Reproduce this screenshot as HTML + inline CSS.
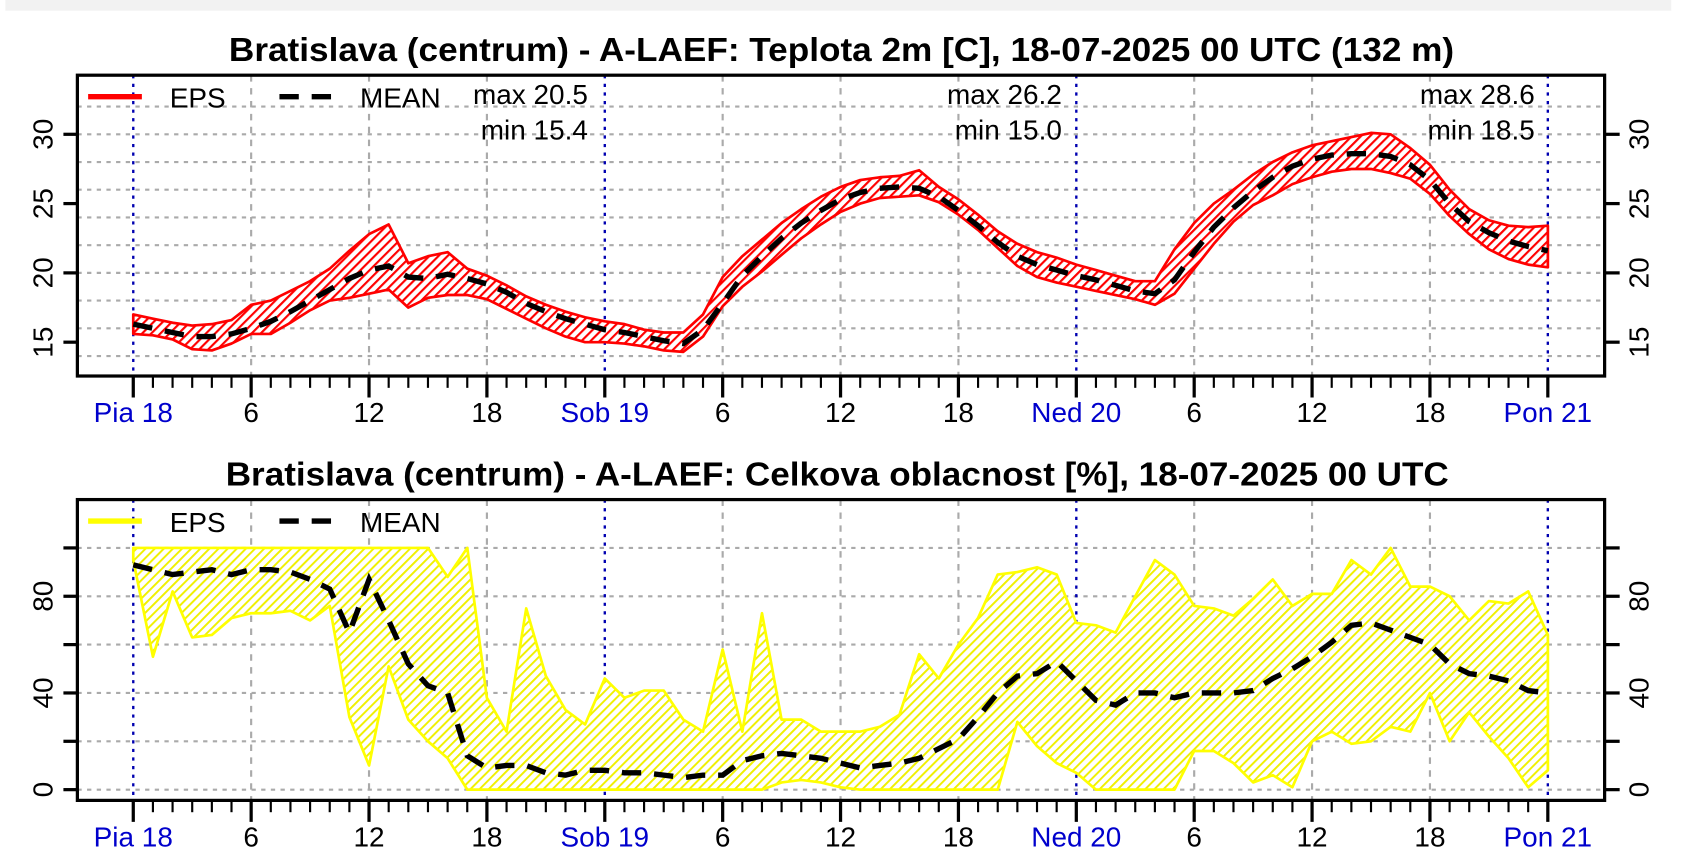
<!DOCTYPE html>
<html><head><meta charset="utf-8"><style>
html,body{margin:0;padding:0;background:#fff;}
svg{display:block;font-family:"Liberation Sans",Arial,sans-serif;}
</style></head><body>
<svg id="s" width="1682" height="867" viewBox="0 0 1565 807" preserveAspectRatio="none" xmlns="http://www.w3.org/2000/svg">
<defs>
<pattern id="hr" patternUnits="userSpaceOnUse" width="6" height="6" patternTransform="rotate(45)">
<rect width="6" height="6" fill="#fff"/><rect width="2" height="6" fill="#f00"/></pattern>
<pattern id="hy" patternUnits="userSpaceOnUse" width="6" height="6" patternTransform="rotate(45)">
<rect width="6" height="6" fill="#fff"/><rect width="1.8" height="6" fill="#f0f000"/></pattern>
</defs>
<rect x="5" y="0" width="1550" height="10" fill="#f2f2f2"/>
<g id="g"></g>
</svg>
<script>
const NS="http://www.w3.org/2000/svg",G=document.getElementById('g');
function el(t,a,txt){const e=document.createElementNS(NS,t);for(const k in a)e.setAttribute(k,a[k]);if(txt!==undefined)e.textContent=txt;G.appendChild(e);return e;}
const X0=124,DX=18.28,L=72,R=1493;
const hx=h=>X0+h*DX;
function panel(top,bot,yf,grid,title,tx,tw){
  el('text',{x:tx,y:top-13,'font-size':31,'font-weight':'bold',textLength:tw,lengthAdjust:'spacingAndGlyphs'},title);
  grid.forEach(v=>el('line',{x1:L,x2:R,y1:yf(v),y2:yf(v),stroke:'#aaa','stroke-width':2,'stroke-dasharray':'4 5'}));
  [6,12,18,30,36,42,54,60,66].forEach(h=>el('line',{x1:hx(h),x2:hx(h),y1:top,y2:bot,stroke:'#aaa','stroke-width':2,'stroke-dasharray':'6 6'}));
  [0,24,48,72].forEach(h=>el('line',{x1:hx(h),x2:hx(h),y1:top,y2:bot,stroke:'#0000b0','stroke-width':2.2,'stroke-dasharray':'3 5'}));
}
function axes(top,bot,yf,ticks,labels){
  el('rect',{x:L,y:top,width:R-L,height:bot-top,fill:'none',stroke:'#000','stroke-width':3});
  for(let h=0;h<=72;h++){const big=h%6==0;el('line',{x1:hx(h),x2:hx(h),y1:bot,y2:bot+(big?20:11),stroke:'#000','stroke-width':big?3:2});}
  const lab=[[0,'Pia 18',1],[6,'6'],[12,'12'],[18,'18'],[24,'Sob 19',1],[30,'6'],[36,'12'],[42,'18'],[48,'Ned 20',1],[54,'6'],[60,'12'],[66,'18'],[72,'Pon 21',1]];
  lab.forEach(([h,t,b])=>el('text',{x:hx(h),y:bot+43,'text-anchor':'middle','font-size':26,fill:b?'#0000cc':'#000'},t));
  ticks.forEach(v=>{el('line',{x1:L-13,x2:L,y1:yf(v),y2:yf(v),stroke:'#000','stroke-width':3});el('line',{x1:R,x2:R+14,y1:yf(v),y2:yf(v),stroke:'#000','stroke-width':3});});
  labels.forEach(v=>{const y=yf(v);
    el('text',{x:0,y:0,transform:`translate(49,${y}) rotate(-90)`,'text-anchor':'middle','font-size':26},String(v));
    el('text',{x:0,y:0,transform:`translate(1534,${y}) rotate(-90)`,'text-anchor':'middle','font-size':26},String(v));});
}
function band(up,lo,yf,fill,stroke){
  let d='M'+up.map((v,i)=>hx(i).toFixed(1)+','+yf(v).toFixed(1)).join('L');
  for(let i=lo.length-1;i>=0;i--)d+='L'+hx(i).toFixed(1)+','+yf(lo[i]).toFixed(1);
  el('path',{d:d+'Z',fill:fill,stroke:stroke,'stroke-width':2.5,'stroke-linejoin':'round'});
}
function mean(m,yf){el('polyline',{points:m.map((v,i)=>hx(i).toFixed(1)+','+yf(v).toFixed(1)).join(' '),fill:'none',stroke:'#000','stroke-width':5,'stroke-dasharray':'18 12'});}
function legend(y,col){
  el('line',{x1:82,x2:132,y1:y,y2:y,stroke:col,'stroke-width':5});
  el('text',{x:158,y:y+10,'font-size':26},'EPS');
  el('line',{x1:260,x2:312,y1:y,y2:y,stroke:'#000','stroke-width':5,'stroke-dasharray':'18 12'});
  el('text',{x:335,y:y+10,'font-size':26},'MEAN');
}
// Temperature
const yT=v=>125+(30-v)*12.9;
const Tm=[16.3,16.0,15.7,15.4,15.4,15.6,16.0,16.5,17.2,18.0,18.8,19.6,20.2,20.5,19.7,19.6,19.9,19.6,19.2,18.6,17.8,17.2,16.7,16.3,15.9,15.7,15.4,15.1,14.9,15.9,17.8,19.8,21.2,22.5,23.6,24.5,25.3,25.8,26.1,26.2,26.1,25.5,24.5,23.4,22.2,21.2,20.6,20.2,19.8,19.5,19.1,18.7,18.5,19.5,21.5,23.3,24.7,25.9,26.9,27.7,28.2,28.5,28.6,28.6,28.4,27.8,26.7,25.0,23.7,22.9,22.3,21.9,21.6];
const Tu=[17.0,16.7,16.4,16.2,16.3,16.6,17.7,18.0,18.7,19.4,20.3,21.6,22.8,23.5,20.7,21.2,21.5,20.3,19.8,19.1,18.3,17.7,17.2,16.8,16.5,16.3,15.9,15.7,15.7,17.0,19.7,21.2,22.4,23.6,24.6,25.5,26.2,26.7,26.9,27.0,27.4,26.2,25.3,24.2,23.0,22.1,21.5,21.1,20.6,20.2,19.8,19.4,19.4,21.7,23.6,25.0,26.0,27.1,28.0,28.7,29.2,29.5,29.8,30.1,30.0,29.0,27.8,26.0,24.6,23.8,23.4,23.3,23.4];
const Tl=[15.6,15.5,15.2,14.5,14.4,14.9,15.6,15.6,16.4,17.3,18.0,18.2,18.5,18.8,17.5,18.2,18.4,18.4,18.1,17.4,16.7,16.0,15.4,15.0,15.0,14.9,14.7,14.4,14.3,15.4,17.6,19.0,20.1,21.3,22.5,23.5,24.4,25.0,25.4,25.5,25.6,25.1,24.2,23.1,21.8,20.5,19.7,19.3,19.0,18.7,18.4,18.1,17.7,18.5,20.3,22.1,23.7,24.9,25.6,26.4,26.9,27.3,27.5,27.5,27.2,26.8,25.7,24.1,22.8,21.7,21.0,20.6,20.4];
panel(70,350,yT,[32,30,28,26,24,22,20,18,16,14],'Bratislava (centrum) - A-LAEF: Teplota 2m [C], 18-07-2025 00 UTC (132 m)',213,1140);
band(Tu,Tl,yT,'url(#hr)','#f00');mean(Tm,yT);
axes(70,350,yT,[15,20,25,30],[15,20,25,30]);
legend(90,'#f00');
[[547,'20.5','15.4'],[988,'26.2','15.0'],[1428,'28.6','18.5']].forEach(([x,a,b])=>{
  el('text',{x:x,y:97,'text-anchor':'end','font-size':26},'max '+a);
  el('text',{x:x,y:130,'text-anchor':'end','font-size':26},'min '+b);});
// Cloud
const yC=v=>735-v*2.25;
const Cm=[93,91,89,90,91,89,91,91,90,87,83,65,87,70,52,43,40,14,9,10,10,7,6,8,8,7,7,6,5,6,6,12,14,15,14,13,11,9,10,11,13,17,21,30,40,47,48,53,45,37,35,40,40,38,40,40,40,41,46,50,55,61,68,69,66,63,60,52,48,47,45,41,40];
const Cu=[100,100,100,100,100,100,100,100,100,100,100,100,100,100,100,100,88,100,38,24,75,47,33,27,46,38,41,41,29,24,58,24,73,29,29,24,24,24,26,31,56,46,60,71,89,90,92,89,69,68,65,80,95,89,76,75,72,79,87,76,81,81,95,89,100,84,84,80,70,78,77,82,64];
const Cl=[95,55,82,63,64,71,73,73,74,70,76,30,10,51,29,20,13,0,0,0,0,0,0,0,0,0,0,0,0,0,0,0,0,3,4,3,1,0,0,0,0,0,0,0,0,28,18,11,7,0,0,0,0,0,16,16,11,3,6,1,20,24,19,20,26,24,40,20,32,22,13,1,8];
panel(465,745,yC,[0,20,40,60,80,100],'Bratislava (centrum) - A-LAEF: Celkova oblacnost [%], 18-07-2025 00 UTC',210,1138);
band(Cu,Cl,yC,'url(#hy)','#ffff00');mean(Cm,yC);
axes(465,745,yC,[0,20,40,60,80,100],[0,40,80]);
legend(485,'#ffff00');
</script>
</body></html>
